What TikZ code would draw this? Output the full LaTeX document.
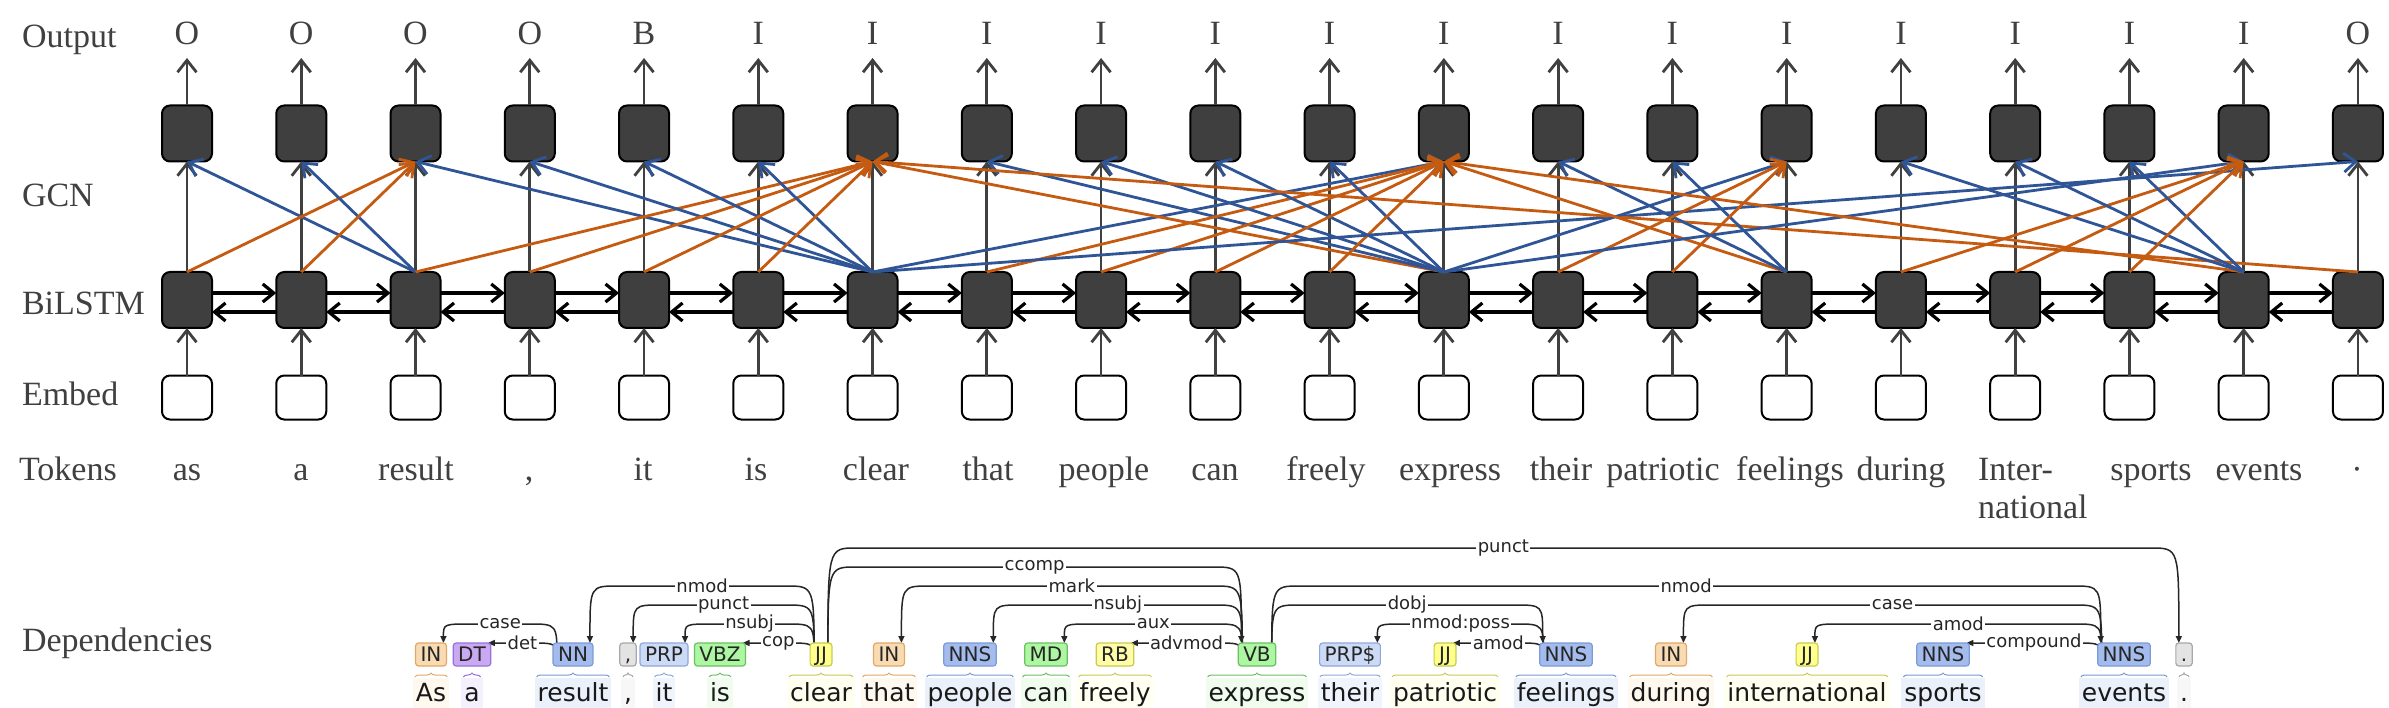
\documentclass[tikz,border=0pt]{standalone}
\usepackage{fontspec}
\setmainfont{Liberation Serif}
\newfontfamily\depfont{DejaVu Sans}
\usetikzlibrary{arrows.meta,calc,decorations.pathreplacing}
\pgfdeclarelayer{paper}
\pgfdeclarelayer{arcs}
\pgfsetlayers{paper,arcs,main}

\definecolor{tgray}{HTML}{404040}
\definecolor{boxgray}{HTML}{3F3F3F}
\definecolor{eblue}{HTML}{2F5597}
\definecolor{eorange}{HTML}{C55A11}
% tag colours: f = fill, d = border, w = word background
\definecolor{INf}{HTML}{F9DBB3}\definecolor{INd}{HTML}{E3A865}\definecolor{INw}{HTML}{FFF8EE}
\definecolor{DTf}{HTML}{C8A9F2}\definecolor{DTd}{HTML}{9B6FDB}\definecolor{DTw}{HTML}{F5F0FD}
\definecolor{NNf}{HTML}{A4BCED}\definecolor{NNd}{HTML}{7B9BD6}\definecolor{NNw}{HTML}{EBF1FB}
\definecolor{PRf}{HTML}{CCDAF6}\definecolor{PRd}{HTML}{8FA8DA}\definecolor{PRw}{HTML}{F0F4FC}
\definecolor{VBf}{HTML}{ADF6A2}\definecolor{VBd}{HTML}{6CC063}\definecolor{VBw}{HTML}{EFFCEE}
\definecolor{JJf}{HTML}{FFFF8E}\definecolor{JJd}{HTML}{CACA50}\definecolor{JJw}{HTML}{FFFFF0}
\definecolor{RBf}{HTML}{FFFDA8}\definecolor{RBd}{HTML}{CACA50}\definecolor{RBw}{HTML}{FFFFF2}
\definecolor{PUf}{HTML}{E3E3E3}\definecolor{PUd}{HTML}{A8A8A8}\definecolor{PUw}{HTML}{F7F7F7}

\newcommand\deptok[5]{%
  \node[tagbox, fill=#5f, draw=#5d] (t#1) at (#2,-654.5) {#3};
  \node[wordbox, fill=#5w] (w#1) at (#2,-701) {#4};
  \draw[brc, draw=#5d] ($(w#1.north west)+(2pt,1pt)$) -- ($(w#1.north east)+(-2pt,1pt)$);
}
% head #1 to the right of dependent #2
\newcommand\arcL[4]{%
  \coordinate (lev) at (0,-#3);
  \coordinate (H) at ($(t#1.west)+(4pt,-5.5pt)$);
  \coordinate (D) at ($(t#2.north east)+(-3pt,0)$);
  \draw[deparrow] (H) .. controls (H |- lev) .. ($(H |- lev)+(-28pt,0)$)
     -- node[arclbl]{#4} ($(D |- lev)+(28pt,0)$) .. controls (D |- lev) .. (D);
}
% head #1 to the left of dependent #2
\newcommand\arcR[4]{%
  \coordinate (lev) at (0,-#3);
  \coordinate (H) at ($(t#1.east)+(-4pt,-5.5pt)$);
  \coordinate (D) at ($(t#2.north west)+(3pt,0)$);
  \draw[deparrow] (H) .. controls (H |- lev) .. ($(H |- lev)+(28pt,0)$)
     -- node[arclbl]{#4} ($(D |- lev)+(-28pt,0)$) .. controls (D |- lev) .. (D);
}

\begin{document}
\begin{tikzpicture}[x=1pt,y=1pt,
  every node/.style={inner sep=0pt, outer sep=0pt},
  toplbl/.style={font=\fontsize{34}{40}\selectfont, text=tgray},
  gcnbox/.style={draw=black, fill=boxgray, line width=2pt, rounded corners=8pt, minimum width=50pt, minimum height=56pt},
  lstmbox/.style={gcnbox},
  embbox/.style={draw=black, fill=white, line width=2pt, rounded corners=8pt, minimum width=50pt, minimum height=44pt},
  vertarr/.style={draw=tgray, line width=2.8pt, -{Straight Barb[length=12pt,width=19pt]}},
  chainarr/.style={draw=black, line width=3.2pt, -{Straight Barb[length=11pt,width=18pt]}},
  bluearr/.style={draw=eblue, line width=2.8pt, -{Straight Barb[length=12pt,width=19pt]}},
  orangearr/.style={draw=eorange, line width=2.8pt, -{Straight Barb[length=12pt,width=19pt]}},
  tagbox/.style={font=\depfont\fontsize{20}{24}\selectfont, text=black!85, minimum height=23pt, inner xsep=5pt, inner ysep=0pt, text height=14.5pt, text depth=0pt, rounded corners=3pt, line width=1.2pt},
  wordbox/.style={anchor=base, font=\depfont\fontsize{25}{30}\selectfont, text=black!90, inner xsep=3pt, inner ysep=0pt, text height=23pt, text depth=7pt},
  brc/.style={decorate, decoration={brace, amplitude=4pt}, line width=1pt},
  deparrow/.style={draw=black!85, line width=1.5pt, -{Triangle[length=7pt,width=6pt]}},
  arclbl/.style={font=\depfont\fontsize{18}{20}\selectfont, fill=white, inner xsep=1.5pt, inner ysep=1pt, text=black!85}
]
\begin{pgfonlayer}{paper}
\fill[white] (0,0) rectangle (2389,-708);
\end{pgfonlayer}
\useasboundingbox (0,0) rectangle (2389,-708);

% row labels
\node[toplbl, anchor=base west] (lout) at (22,-48) {Output};
\node[toplbl, anchor=base west] (lgcn) at (22,-207) {GCN};
\node[toplbl, anchor=base west] (lbil) at (22,-315) {BiLSTM};
\node[toplbl, anchor=base west] (lemb) at (22,-405) {Embed};
\node[toplbl, anchor=base west] (ltok) at (19,-480) {Tokens};
\node[toplbl, anchor=base west] (ldep) at (22,-651) {Dependencies};

% columns
\foreach \i/\o in {0/O,1/O,2/O,3/O,4/B,5/I,6/I,7/I,8/I,9/I,10/I,11/I,12/I,13/I,14/I,15/I,16/I,17/I,18/I,19/O} {
  \pgfmathsetmacro\cx{187+114.26*\i}
  \node[gcnbox] (g\i) at (\cx,-133.5) {};
  \node[lstmbox] (b\i) at (\cx,-300) {};
  \node[embbox] (e\i) at (\cx,-397.5) {};
  \node[toplbl, anchor=base] (o\i) at (\cx,-45) {\o};
  \coordinate (ot\i) at (\cx,-58);
  \draw[vertarr] (g\i.north) -- (ot\i);
  \draw[vertarr] (b\i.north) -- (g\i.south);
  \draw[vertarr] (e\i.north) -- (b\i.south);
}

% BiLSTM chain
\foreach \i in {0,...,18} {
  \pgfmathtruncatemacro\j{\i+1}
  \draw[chainarr] ([yshift=7pt]b\i.east) -- ([yshift=7pt]b\j.west);
  \draw[chainarr] ([yshift=-12pt]b\j.west) -- ([yshift=-12pt]b\i.east);
}

% GCN edges: blue head->dependent, orange dependent->head
\foreach \h/\d in {2/0,2/1,6/2,6/3,6/4,6/5,6/11,11/7,11/8,11/9,11/10,6/19,11/14,14/12,14/13,11/18,18/15,18/16,18/17} {
  \draw[bluearr] (b\h.north) -- (g\d.south);
  \draw[orangearr] (b\d.north) -- (g\h.south);
}

% tokens
\node[toplbl, anchor=base] (k0) at (187,-480) {as};
\node[toplbl, anchor=base] (k1) at (301,-480) {a};
\node[toplbl, anchor=base] (k2) at (416,-480) {result};
\node[toplbl, anchor=base] (k3) at (529,-480) {,};
\node[toplbl, anchor=base] (k4) at (643,-480) {it};
\node[toplbl, anchor=base] (k5) at (756,-480) {is};
\node[toplbl, anchor=base] (k6) at (876,-480) {clear};
\node[toplbl, anchor=base] (k7) at (988,-480) {that};
\node[toplbl, anchor=base] (k8) at (1104,-480) {people};
\node[toplbl, anchor=base] (k9) at (1215,-480) {can};
\node[toplbl, anchor=base] (k10) at (1326,-480) {freely};
\node[toplbl, anchor=base] (k11) at (1450,-480) {express};
\node[toplbl, anchor=base] (k12) at (1561,-480) {their};
\node[toplbl, anchor=base] (k13) at (1663,-480) {patriotic};
\node[toplbl, anchor=base] (k14) at (1790,-480) {feelings};
\node[toplbl, anchor=base] (k15) at (1901,-480) {during};
\node[toplbl, anchor=base west] (k16a) at (1978,-480) {Inter-};
\node[toplbl, anchor=base west] (k16b) at (1978,-518) {national};
\node[toplbl, anchor=base] (k17) at (2151,-480) {sports};
\node[toplbl, anchor=base] (k18) at (2259,-480) {events};
\node[toplbl, anchor=base] (k19) at (2357,-480) {·};

% dependency tokens
\deptok{0}{431}{IN}{As}{IN}
\deptok{1}{472}{DT}{a}{DT}
\deptok{2}{573}{NN}{result}{NN}
\deptok{3}{628}{,}{,}{PU}
\deptok{4}{664}{PRP}{it}{PR}
\deptok{5}{720}{VBZ}{is}{VB}
\deptok{6}{821}{JJ}{clear}{JJ}
\deptok{7}{889}{IN}{that}{IN}
\deptok{8}{970}{NNS}{people}{NN}
\deptok{9}{1046}{MD}{can}{VB}
\deptok{10}{1115}{RB}{freely}{RB}
\deptok{11}{1257}{VB}{express}{VB}
\deptok{12}{1350}{PRP\$}{their}{PR}
\deptok{13}{1445}{JJ}{patriotic}{JJ}
\deptok{14}{1566}{NNS}{feelings}{NN}
\deptok{15}{1671}{IN}{during}{IN}
\deptok{16}{1807}{JJ}{international}{JJ}
\deptok{17}{1943}{NNS}{sports}{NN}
\deptok{18}{2124}{NNS}{events}{NN}
\deptok{19}{2184}{.}{.}{PU}

\begin{pgfonlayer}{arcs}
\arcL{2}{0}{624}{case}
\arcL{2}{1}{643}{det}
\arcL{6}{2}{586}{nmod}
\arcL{6}{3}{605}{punct}
\arcL{6}{4}{624}{nsubj}
\arcL{6}{5}{643}{cop}
\arcR{6}{11}{567}{ccomp}
\arcL{11}{7}{586}{mark}
\arcL{11}{8}{605}{nsubj}
\arcL{11}{9}{624}{aux}
\arcL{11}{10}{643}{advmod}
\arcR{6}{19}{548}{punct}
\arcR{11}{14}{605}{dobj}
\arcL{14}{12}{624}{nmod:poss}
\arcL{14}{13}{643}{amod}
\arcR{11}{18}{586}{nmod}
\arcL{18}{15}{605}{case}
\arcL{18}{16}{624}{amod}
\arcL{18}{17}{643}{compound}
\end{pgfonlayer}
\end{tikzpicture}
\end{document}
